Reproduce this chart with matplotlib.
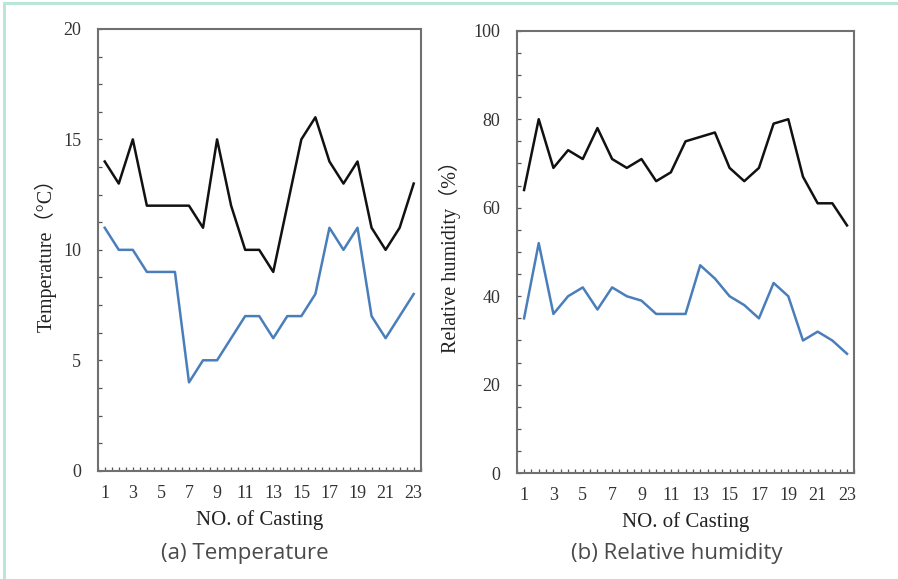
import matplotlib

matplotlib.use("Agg")
import matplotlib.pyplot as plt
from matplotlib.patches import Rectangle
from matplotlib.ticker import MultipleLocator

casting = list(range(1, 24))
temp_high = [14, 13, 15, 12, 12, 12, 12, 11, 15, 12, 10, 10, 9, 12, 15, 16, 14, 13, 14, 11, 10, 11, 13]
temp_low = [11, 10, 10, 9, 9, 9, 4, 5, 5, 6, 7, 7, 6, 7, 7, 8, 11, 10, 11, 7, 6, 7, 8]
hum_high = [64, 80, 69, 73, 71, 78, 71, 69, 71, 66, 68, 75, 76, 77, 69, 66, 69, 79, 80, 67, 61, 61, 56]
hum_low = [35, 52, 36, 40, 42, 37, 42, 40, 39, 36, 36, 36, 47, 44, 40, 38, 35, 43, 40, 30, 32, 30, 27]
x_labels = [str(i) for i in range(1, 24, 2)]

SERIF = ["Liberation Serif", "Noto Sans CJK SC"]
BLACK = "#111111"
BLUE = "#4a7ebb"
SPINE = "#707070"

fig = plt.figure(figsize=(8.98, 5.79), dpi=100)

# light frame on top/left edge
fig.patches.append(Rectangle((4 / 898, -0.1), 1.2, 1.1 - 3.5 / 579, transform=fig.transFigure,
                             fill=False, edgecolor="#b9e6d7", linewidth=2.2))

ax_t = fig.add_axes([0.1088, 0.187, 0.3597, 0.763])
ax_h = fig.add_axes([0.5754, 0.1826, 0.376, 0.7644])


def style_axes(ax, ymax, ystep, ylabel, ylab_x):
    ax.set_xlim(0.5, 23.5)
    ax.set_ylim(0, ymax)
    ax.set_xticks(range(1, 24, 2))
    ax.set_xticklabels(x_labels)
    ax.xaxis.set_minor_locator(MultipleLocator(0.5))
    ax.yaxis.set_major_locator(MultipleLocator(ystep))
    ax.yaxis.set_minor_locator(MultipleLocator(ystep / 4))
    ax.tick_params(which="both", direction="in", top=False, right=False,
                   color="#555555", width=0.9, length=3)
    ax.tick_params(axis="y", which="major", pad=12)
    ax.tick_params(axis="x", which="major", pad=10)
    for lab in ax.get_xticklabels() + ax.get_yticklabels():
        lab.set_fontfamily(SERIF)
        lab.set_fontsize(13)
        lab.set_color("#333333")
    for sp in ax.spines.values():
        sp.set_color(SPINE)
        sp.set_linewidth(1.5)
    ax.set_xlabel("NO. of Casting", fontfamily=SERIF, fontsize=15, color="#222222", labelpad=6)
    ax.set_ylabel(ylabel, fontfamily=SERIF, fontsize=14.5, color="#222222")
    ax.yaxis.set_label_coords(ylab_x, 0.5)


ax_t.plot(casting, temp_high, color=BLACK, linewidth=1.8)
ax_t.plot(casting, temp_low, color=BLUE, linewidth=1.8)
style_axes(ax_t, 20, 5, "Temperature（°C）", -0.126)

ax_h.plot(casting, hum_high, color=BLACK, linewidth=1.8)
ax_h.plot(casting, hum_low, color=BLUE, linewidth=1.8)
style_axes(ax_h, 100, 20, "Relative humidity（%）", -0.165)

fig.text(245 / 898, 1 - 554 / 579, "(a) Temperature", ha="center", va="center",
         fontfamily="Open Sans", fontsize=16, color="#4a4a4a")
fig.text(677 / 898, 1 - 554 / 579, "(b) Relative humidity", ha="center", va="center",
         fontfamily="Open Sans", fontsize=16, color="#4a4a4a")

fig.savefig("out.png", dpi=100)
plt.close(fig)
